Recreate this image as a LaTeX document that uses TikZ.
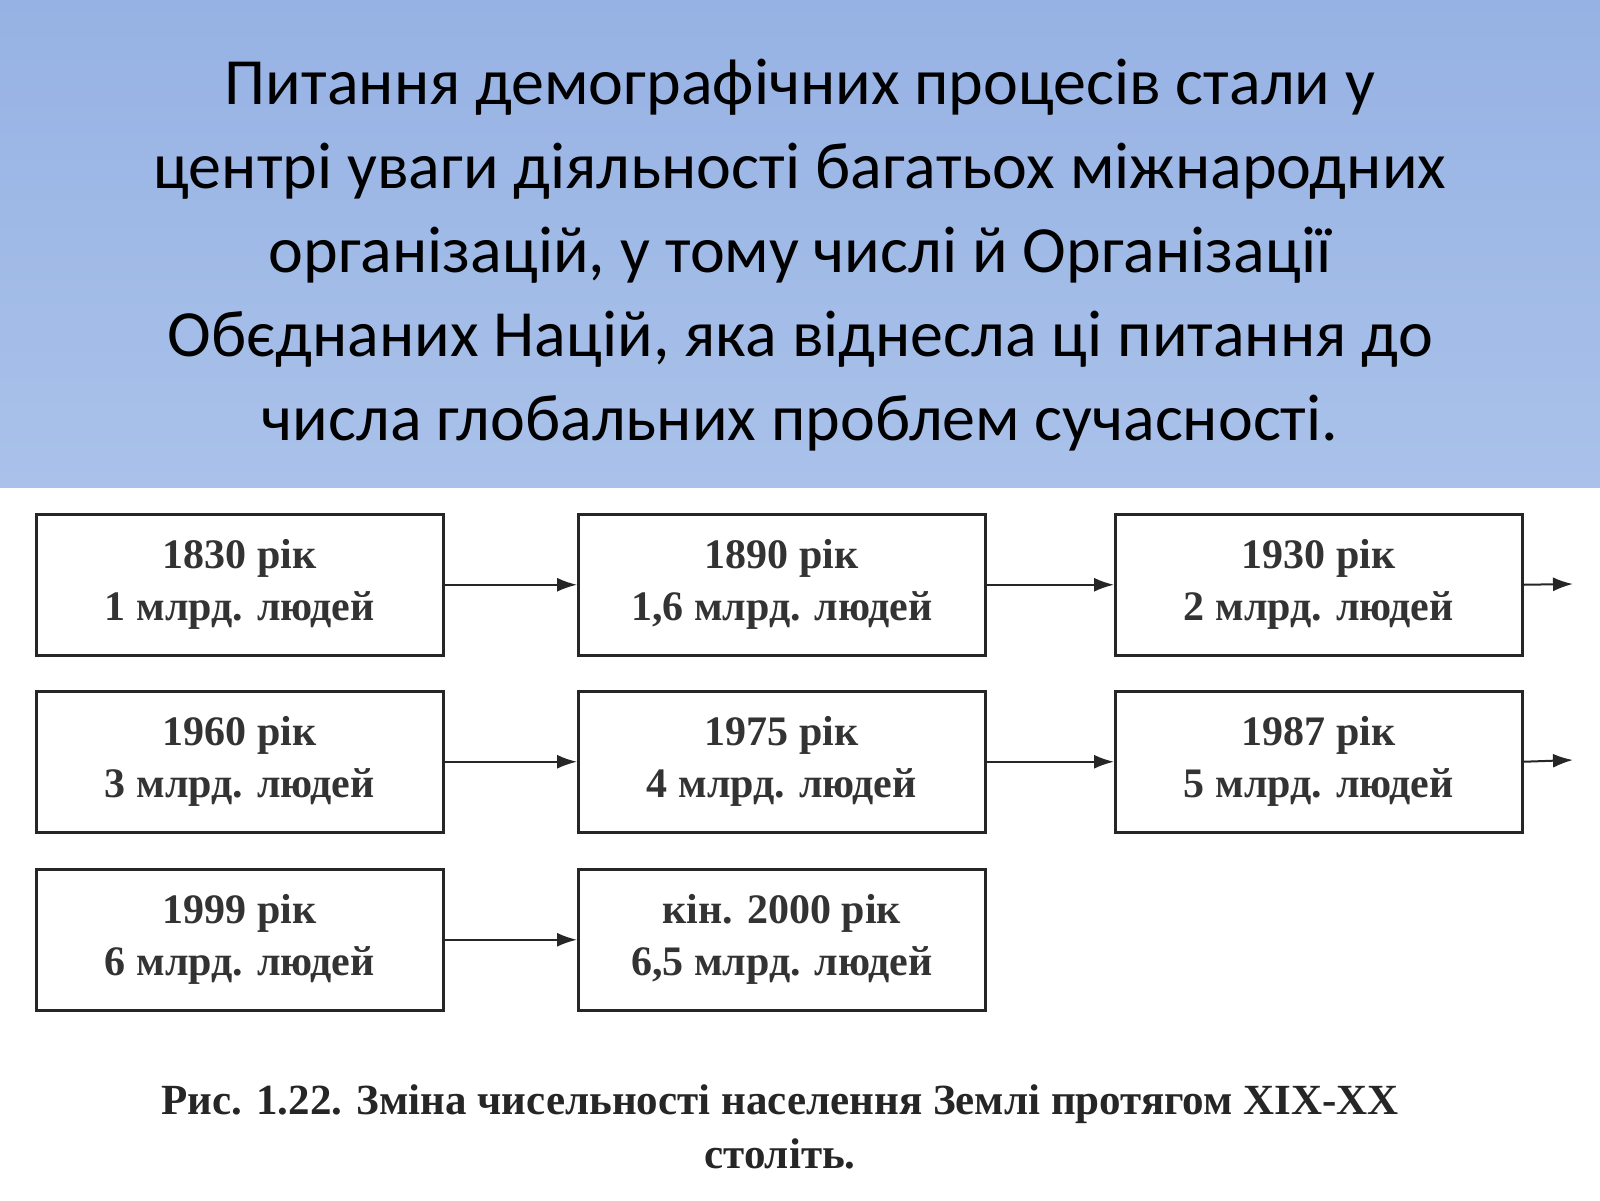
\documentclass[tikz,border=0pt]{standalone}
\usepackage{fontspec}
\usetikzlibrary{arrows.meta}
\setmainfont{Liberation Serif}
\newfontfamily\hdr{Carlito}
\begin{document}
\begin{tikzpicture}[x=1pt,y=-1pt,
 bx/.style={draw=black!85,line width=2.5pt,minimum width=407pt,minimum height=141pt,anchor=north west,inner sep=0pt,align=center,font=\bfseries\fontsize{42}{52}\selectfont,text=black!80},
 ar/.style={-{Latex[length=20pt,width=14pt]},line width=2pt,black!85}]
\useasboundingbox (0,0) rectangle (1600,1200);
\fill[white] (0,0) rectangle (1600,1200);
\shade[top color={rgb,255:red,150;green,178;blue,228},bottom color={rgb,255:red,170;green,194;blue,234}] (0,0) rectangle (1600,487);
\node[font=\hdr\fontsize{66}{84}\selectfont,align=center] (h) at (800,255) {Питання демографічних процесів стали у\\центрі уваги діяльності багатьох міжнародних\\організацій, у тому числі й Організації\\Обєднаних Націй, яка віднесла ці питання до\\числа глобальних проблем сучасності.};
\node[bx] (a) at (35,513) {1830 рік\\1 млрд. людей};
\node[bx] (b) at (577,513) {1890 рік\\1,6 млрд. людей};
\node[bx] (c) at (1114,513) {1930 рік\\2 млрд. людей};
\node[bx] (d) at (35,690) {1960 рік\\3 млрд. людей};
\node[bx] (e) at (577,690) {1975 рік\\4 млрд. людей};
\node[bx] (f) at (1114,690) {1987 рік\\5 млрд. людей};
\node[bx] (g) at (35,868) {1999 рік\\6 млрд. людей};
\node[bx] (k) at (577,868) {кін. 2000 рік\\6,5 млрд. людей};
\coordinate (c2) at (1573,584);
\coordinate (f2) at (1573,760);
\draw[ar] (a) -- (b); \draw[ar] (b) -- (c); \draw[ar] (c.east) -- (c2);
\draw[ar] (d) -- (e); \draw[ar] (e) -- (f); \draw[ar] (f.east) -- (f2);
\draw[ar] (g) -- (k);
\node[font=\bfseries\fontsize{43}{54}\selectfont,align=center,text=black!85] (cap) at (780,1127) {Рис. 1.22. Зміна чисельності населення Землі протягом XIX-XX\\століть.};
\end{tikzpicture}
\end{document}
